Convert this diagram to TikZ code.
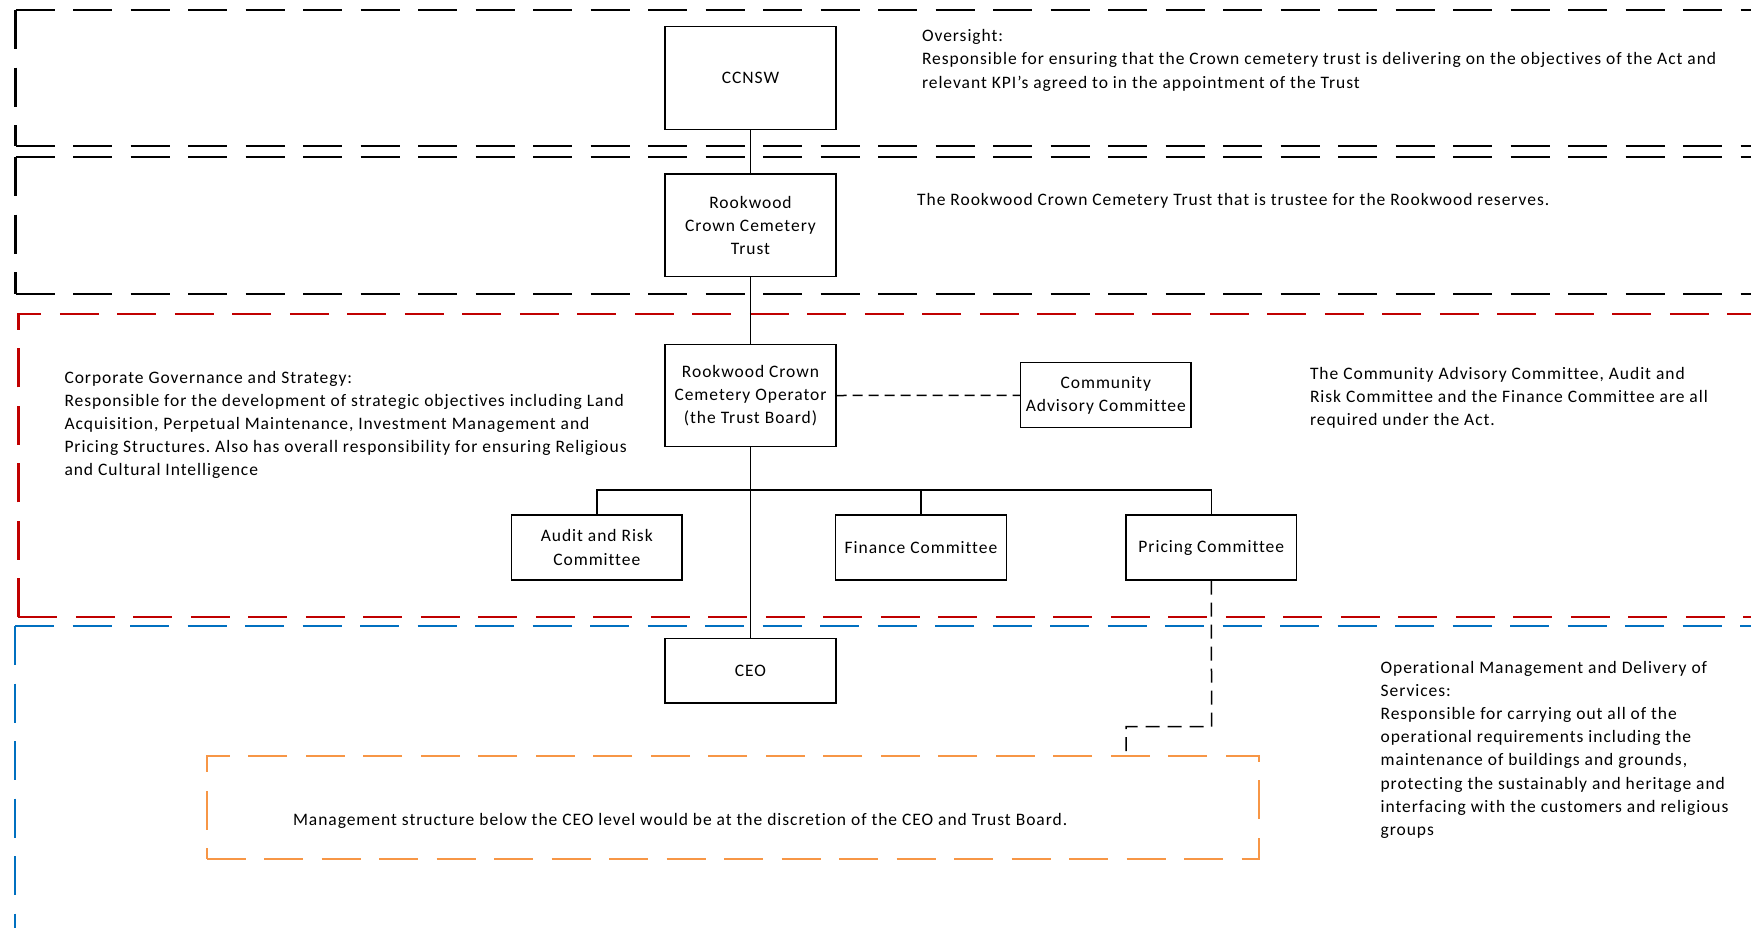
\documentclass[tikz,border=0pt]{standalone}
\usepackage{fontspec}
\setmainfont{Carlito}[LetterSpace=5.5, Ligatures=NoCommon]
\newcommand\dfont{\fontsize{17.5}{23.2}\selectfont\frenchspacing}
\definecolor{fred}{HTML}{C00000}
\definecolor{fblue}{HTML}{0070C0}
\definecolor{forange}{HTML}{F79646}
\begin{document}
\begin{tikzpicture}[x=1pt,y=-1pt,
  frame/.style={line width=2.2pt, dash pattern=on 39pt off 18.5pt, line cap=butt},
  box/.style={draw, line width=1.3pt, align=center, inner sep=2pt, font=\dfont},
  wide/.style={minimum width=171pt, minimum height=102.6pt},
  small/.style={minimum width=170.5pt, minimum height=65pt},
  txt/.style={anchor=north west, align=left, inner sep=0pt, font=\dfont},
  conn/.style={line width=1.2pt},
  dconn/.style={line width=1.5pt, dash pattern=on 10pt off 6pt},
  dconnb/.style={line width=1.5pt, dash pattern=on 14pt off 8pt}]
\clip (0,0) rectangle (1751,927);
\fill[white] (0,0) rectangle (1751,927);

% frames
\draw[frame] (15.5,10) -- (1800,10);
\draw[frame] (15.5,10) -- (15.5,146);
\draw[frame] (15.5,146) -- (1800,146);
\draw[frame] (15.5,157) -- (1800,157);
\draw[frame] (15.5,157) -- (15.5,293.7);
\draw[frame] (15.5,293.7) -- (1800,293.7);
\draw[frame, fred] (18.4,617.3) -- (18.4,313.7) -- (1800,313.7);
\draw[frame, fred] (18.4,617.3) -- (1800,617.3);
\draw[frame, fblue] (15,626) -- (1800,626);
\draw[frame, fblue] (15,626) -- (15,940);

% boxes
\node[box, wide] (ccnsw) at (750.5,78) {CCNSW};
\node[box, wide] (trust) at (750.5,225.4) {Rookwood\\Crown Cemetery\\Trust};
\node[box, wide] (op) at (750.5,395.5) {Rookwood Crown\\Cemetery Operator\\(the Trust Board)};
\node[box, small] (cac) at (1105.8,395.3) {Community\\Advisory Committee};
\node[box, small] (audit) at (596.8,547.5) {Audit and Risk\\Committee};
\node[box, small] (finance) at (921,547.5) {Finance Committee};
\node[box, small] (pricing) at (1211.3,547.5) {Pricing Committee};
\node[box, minimum width=171pt, minimum height=64.7pt] (ceo) at (750.5,670.7) {CEO};
\node[draw=forange, line width=2pt, dash pattern=on 39pt off 18.5pt, minimum width=1052.6pt, minimum height=102.7pt] (mgmt) at (733,807.6) {};

% texts
\node[txt] (t1) at (921.8,25.3) {\strut Oversight:\\Responsible for ensuring that the Crown cemetery trust is delivering on the objectives of the Act and\\relevant KPI’s agreed to in the appointment of the Trust};
\node[txt] (t2) at (917,188.6) {\strut The Rookwood Crown Cemetery Trust that is trustee for the Rookwood reserves.};
\node[txt] (t3) at (64.3,366.6) {\strut Corporate Governance and Strategy:\\Responsible for the development of strategic objectives including Land\\Acquisition, Perpetual Maintenance, Investment Management and\\Pricing Structures. Also has overall responsibility for ensuring Religious\\and Cultural Intelligence};
\node[txt] (t4) at (1309.8,362.6) {\strut The Community Advisory Committee, Audit and\\Risk Committee and the Finance Committee are all\\required under the Act.};
\node[txt] (t5) at (1380.4,656.6) {\strut Operational Management and Delivery of\\Services:\\Responsible for carrying out all of the\\operational requirements including the\\maintenance of buildings and grounds,\\protecting the sustainably and heritage and\\interfacing with the customers and religious\\groups};
\node[txt] (t6) at (292.8,808.6) {\strut Management structure below the CEO level would be at the discretion of the CEO and Trust Board.};

% connectors
\coordinate (bus) at (750.5,490);
\coordinate (pk) at (1211.6,726.7);
\coordinate (pk2) at (1126,726.7);
\draw[conn] (ccnsw.south) -- (trust.north);
\draw[conn] (trust.south) -- (op.north);
\draw[line width=1.8pt] (op.south) -- (bus);
\draw[conn] (bus) -- (ceo.north);
\draw[line width=1.6pt] (audit.north) |- (bus) -| (pricing.north);
\draw[conn] (finance.north) -- (finance.north |- bus);
\draw[dconn] (op.east) -- (cac.west);
\draw[dconnb] (pricing.south) -- (pk) -- (pk2) -- (pk2 |- mgmt.north);
\end{tikzpicture}
\end{document}
